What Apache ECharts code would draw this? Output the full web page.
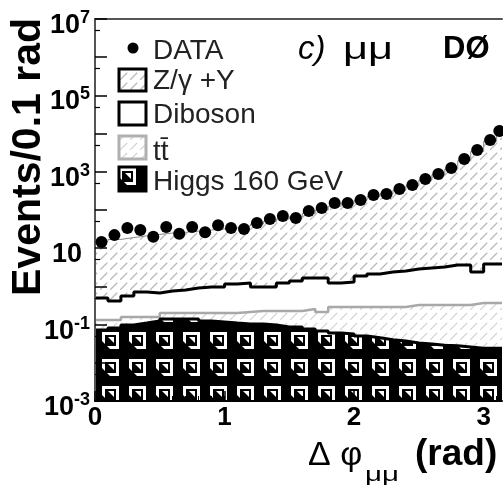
<!DOCTYPE html>
<html><head><meta charset="utf-8">
<script src="https://cdn.jsdelivr.net/npm/echarts@6/dist/echarts.min.js"></script>
<style>html,body{margin:0;padding:0;background:#fff}#c{width:503px;height:488px}</style>
</head><body><div id="c"></div>
<script>
// ---- data (Delta phi_mumu, bins of 0.1 rad; last bin 3.1..pi) ----
const binEdges = [0,0.1,0.2,0.3,0.4,0.5,0.6,0.7,0.8,0.9,1.0,1.1,1.2,1.3,1.4,1.5,1.6,1.7,1.8,1.9,2.0,2.1,2.2,2.3,2.4,2.5,2.6,2.7,2.8,2.9,3.0,3.1,3.1416];
const dataEvents = [14.5,22,34,30,20,36,24,36,26,40,34,32,46,58,70,62,94,113,152,152,183,247,262,355,451,648,875,1257,2163,3724,6796,11700];
const zgamma  = [14.5,16.6,18.4,20.3,22.3,24.2,25.2,27.1,29,31,32.8,36.8,42,49,56.8,64.6,80.3,98.3,124,149,178,223,263,328,427,597,827,1176,1946,3398,6296,10996];
const diboson = [0.365,0.283,0.403,0.555,0.514,0.557,0.604,0.707,0.763,0.763,0.954,1.012,0.737,0.737,1.000,1.158,1.404,1.445,0.938,1.011,1.581,1.821,2.091,2.241,2.524,2.704,2.894,3.304,3.304,2.013,3.493,3.493];
const ttbar   = [0.060,0.050,0.060,0.048,0.034,0.061,0.061,0.061,0.077,0.084,0.091,0.111,0.123,0.129,0.140,0.140,0.179,0.147,0.229,0.232,0.239,0.244,0.249,0.252,0.293,0.295,0.297,0.298,0.300,0.343,0.343,0.343];
const higgs   = [0.072,0.082,0.098,0.110,0.124,0.140,0.140,0.140,0.124,0.117,0.110,0.104,0.104,0.098,0.087,0.087,0.077,0.068,0.060,0.057,0.050,0.045,0.040,0.037,0.033,0.031,0.029,0.028,0.026,0.024,0.024,0.024];
const xTickLabels = [0,1,2,3];
const yTickLabels = [1e-3,1e-1,1e1,1e3,1e5,1e7];
const yDecadeTicks = [1e-3,1e-2,1e-1,1,1e1,1e2,1e3,1e4,1e5,1e6,1e7];
const yFiveTicks = [5e-3,5e-2,5e-1,5,5e1,5e2,5e3,5e4,5e5,5e6];

// ---- stacked tops ----
const nb = higgs.length;
const cum1 = higgs.slice();
const cum2 = cum1.map((v,i)=>v+ttbar[i]);
const cum3 = cum2.map((v,i)=>v+diboson[i]);
const cum4 = cum3.map((v,i)=>v+zgamma[i]);
function stepData(arr){
  const d = arr.map((v,i)=>[binEdges[i], v]);
  d.push([binEdges[nb], arr[nb-1]]);
  return d;
}
const centers = dataEvents.map((v,i)=>[(binEdges[i]+binEdges[i+1])/2, v]);

// ---- patterns ----
function hatch(color, sp, lw){
  const c = document.createElement('canvas'); c.width = sp; c.height = sp;
  const g = c.getContext('2d');
  g.fillStyle = '#fff'; g.fillRect(0,0,sp,sp);
  g.strokeStyle = color; g.lineWidth = lw;
  g.beginPath(); g.moveTo(0, sp); g.lineTo(sp*0.72, sp*0.28); g.stroke();
  return c;
}
function checker(){
  const s = 27;
  const c = document.createElement('canvas'); c.width = s; c.height = s;
  const g = c.getContext('2d');
  g.fillStyle = '#000'; g.fillRect(0,0,s,s);
  g.fillStyle = '#fff'; g.fillRect(8,2,17,17);
  g.fillStyle = '#000';
  g.fillRect(11,5,11,11);
  g.beginPath(); g.moveTo(8,19); g.lineTo(8,11); g.lineTo(16,19); g.closePath(); g.fill();
  g.fillStyle = '#fff';
  g.beginPath(); g.moveTo(14,7); g.lineTo(20,7); g.lineTo(20,13); g.closePath(); g.fill();
  return c;
}
const zPat = {image: hatch('#bcbcbc', 10, 1.3), repeat: 'repeat'};
const ttPat = {image: hatch('#d2d2d2', 10, 1.2), repeat: 'repeat'};
const hPat = {image: checker(), repeat: 'repeat', x: 94, y: 330};
const hPatLeg = {image: checker(), repeat: 'repeat', x: 111, y: 166};

const FONT = '"Liberation Sans", Arial, Helvetica, sans-serif';
const chart = echarts.init(document.getElementById('c'), null, {renderer: 'canvas'});

function stepSeries(name, arr, fill, lineColor, lineWidth, z){
  return {
    name, type: 'line', step: 'end', data: stepData(arr), showSymbol: false, symbol: 'none',
    xAxisIndex: 0, yAxisIndex: 0, z,
    lineStyle: {color: lineColor, width: lineWidth},
    areaStyle: {color: fill, opacity: 1, origin: 'start'},
    emphasis: {disabled: true}, silent: true
  };
}

function txt(x, y, text, font, fill, extra){
  return Object.assign({type: 'text', x, y, silent: true, z: 100,
    style: {text, font, fill: fill || '#000', align: 'left', textAlign: 'left', verticalAlign: 'middle', textVerticalAlign: 'middle'}}, extra || {});
}

const option = {
  animation: false,
  backgroundColor: '#fff',
  grid: {left: 95, right: 1, top: 19, bottom: 87, show: false},
  xAxis: [
    {type: 'value', min: 0, max: Math.PI, position: 'bottom', z: 5,
     axisLine: {show: true, lineStyle: {color: '#000', width: 2}},
     axisTick: {show: true, inside: true, length: 10, customValues: xTickLabels, lineStyle: {color: '#000', width: 1.5}},
     axisLabel: {show: true, customValues: xTickLabels, margin: 4, color: '#000', fontSize: 26, fontWeight: 'bold', fontFamily: FONT},
     splitLine: {show: false}},
    {type: 'value', min: 0, max: Math.PI, position: 'bottom', z: 5,
     axisLine: {show: false},
     axisTick: {show: true, inside: true, length: 5, customValues: binEdges.slice(1, nb), lineStyle: {color: '#000', width: 1}},
     axisLabel: {show: false}, splitLine: {show: false}},
    {type: 'value', min: 0, max: Math.PI, position: 'top', z: 5,
     axisLine: {show: true, lineStyle: {color: '#555', width: 2}},
     axisTick: {show: false}, axisLabel: {show: false}, splitLine: {show: false}}
  ],
  yAxis: [
    {type: 'log', logBase: 10, min: 1e-3, max: 1e7, position: 'left', z: 5,
     axisLine: {show: true, lineStyle: {color: '#000', width: 2}},
     axisTick: {show: true, inside: true, length: 12, customValues: yDecadeTicks, lineStyle: {color: '#000', width: 1.5}},
     axisLabel: {show: true, customValues: yTickLabels, margin: 5, align: 'right',
       formatter: function(v){
         const e = Math.round(Math.log10(v));
         if (e === 1) return '{h|}{b|10}{pad|}';
         return '{h|}{b|10}{s|' + e + '}';
       },
       rich: {
         h: {width: 0, height: 40, verticalAlign: 'bottom'},
         b: {fontSize: 27, fontWeight: 'bold', fontFamily: FONT, color: '#000', lineHeight: 27, verticalAlign: 'bottom'},
         s: {fontSize: 18, fontWeight: 'bold', fontFamily: FONT, color: '#000', lineHeight: 18, padding: [0,0,12,0], verticalAlign: 'bottom'},
         pad: {width: 8, height: 1, verticalAlign: 'bottom'}
       }},
     splitLine: {show: false}},
    {type: 'log', logBase: 10, min: 1e-3, max: 1e7, position: 'left', z: 5,
     axisLine: {show: false},
     axisTick: {show: true, inside: true, length: 5, customValues: yFiveTicks, lineStyle: {color: '#000', width: 1.2}},
     axisLabel: {show: false}, splitLine: {show: false}},
    {type: 'log', logBase: 10, min: 1e-3, max: 1e7, position: 'right', z: 5,
     axisLine: {show: true, lineStyle: {color: '#555', width: 2}},
     axisTick: {show: false}, axisLabel: {show: false}, splitLine: {show: false}}
  ],
  series: [
    stepSeries('Z/γ +Y', cum4, zPat, '#888', 1, 1),
    stepSeries('Diboson', cum3, '#fff', '#000', 3, 2),
    stepSeries('tt̄', cum2, ttPat, '#a8a8a8', 2.5, 3),
    stepSeries('Higgs 160 GeV', cum1, hPat, '#000', 3, 4),
    {name: 'DATA', type: 'scatter', data: centers, symbol: 'circle', symbolSize: 12,
     itemStyle: {color: '#000', opacity: 1}, z: 6, xAxisIndex: 0, yAxisIndex: 0, silent: true}
  ],
  graphic: {elements: [
    // y axis title
    txt(29, 157, 'Events/0.1 rad', 'bold 41px ' + FONT, '#000', {rotation: Math.PI/2,
      style: {text: 'Events/0.1 rad', font: 'bold 41px ' + FONT, fill: '#000', align: 'center', textAlign: 'center', verticalAlign: 'middle', textVerticalAlign: 'middle'}}),
    // x axis title
    txt(308, 456, 'Δ φ', '34px ' + FONT),
    txt(365, 475, 'μμ', '21px ' + FONT, '#000', {scaleX: 1.4}),
    txt(415, 455, '(rad)', 'bold 37px ' + FONT),
    // panel label
    txt(298, 50, 'c)', 'italic 33px ' + FONT),
    txt(343, 50, 'μμ', '31px ' + FONT, '#000', {scaleX: 1.4}),
    txt(443, 49, 'DØ', 'bold 31px ' + FONT),
    // legend
    {type: 'circle', shape: {cx: 133, cy: 48, r: 5.5}, style: {fill: '#000'}, z: 100, silent: true},
    txt(153, 51, 'DATA', '28px ' + FONT, '#222'),
    {type: 'rect', shape: {x: 119, y: 69, width: 27, height: 22}, style: {fill: zPat, stroke: '#000', lineWidth: 3}, z: 100, silent: true},
    txt(153, 81, 'Z/γ +Y', '28px ' + FONT, '#222'),
    {type: 'rect', shape: {x: 119, y: 102, width: 27, height: 23}, style: {fill: '#fff', stroke: '#000', lineWidth: 3}, z: 100, silent: true},
    txt(153, 115, 'Diboson', '28px ' + FONT, '#222'),
    {type: 'rect', shape: {x: 119, y: 136, width: 27, height: 23}, style: {fill: ttPat, stroke: '#b0b0b0', lineWidth: 3}, z: 100, silent: true},
    txt(153, 152, 'tt̄', '28px ' + FONT, '#222'),
    {type: 'rect', shape: {x: 119, y: 167, width: 27, height: 24}, style: {fill: hPatLeg, stroke: '#000', lineWidth: 3}, z: 100, silent: true},
    txt(153, 182, 'Higgs 160 GeV', '28px ' + FONT, '#222')
  ]}
};
chart.setOption(option);
</script>
</body></html>
